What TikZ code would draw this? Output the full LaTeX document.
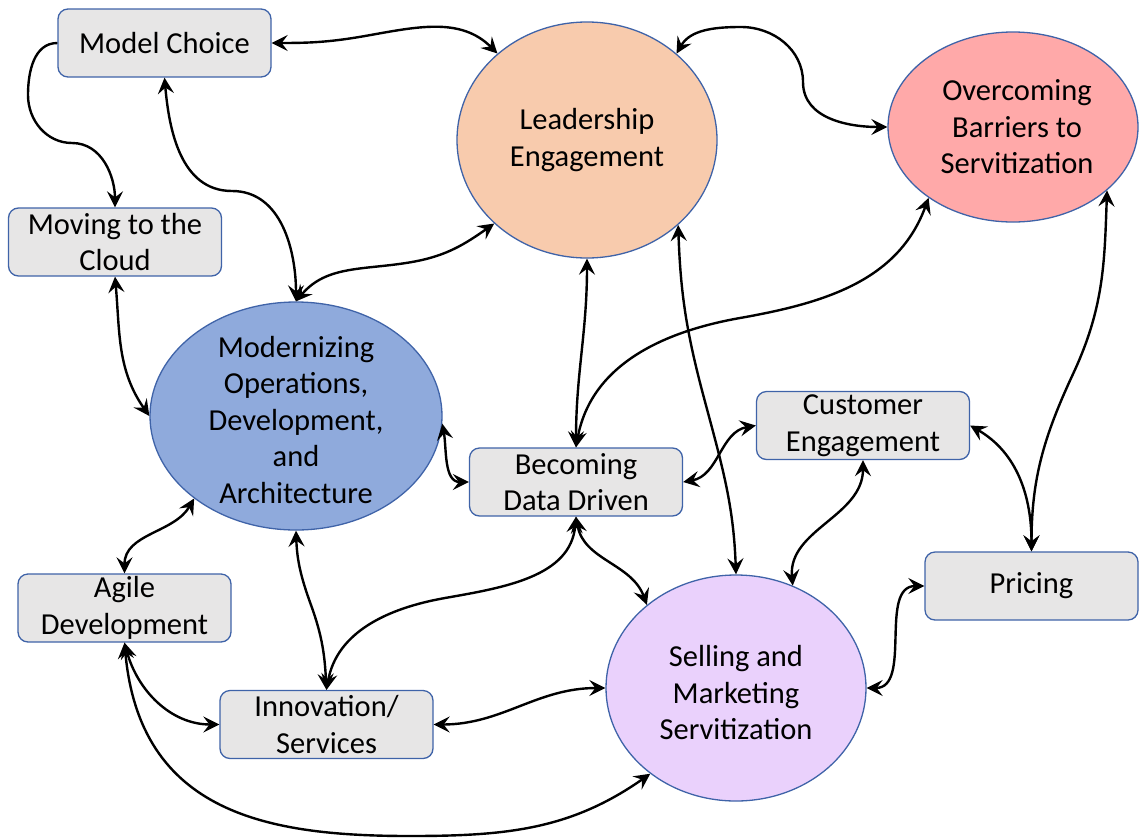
\documentclass[tikz,border=0pt]{standalone}
\usepackage{fontspec}
\setmainfont{Carlito}
\usetikzlibrary{shapes.geometric,arrows.meta}

\definecolor{boxfill}{HTML}{E7E6E6}
\definecolor{edgeblue}{HTML}{3F63A8}
\definecolor{leadfill}{HTML}{F8CBAD}
\definecolor{barrierfill}{HTML}{FFA9A9}
\definecolor{modfill}{HTML}{8FAADC}
\definecolor{sellfill}{HTML}{EAD1FC}
\newcommand\diagfont{\fontsize{30.5}{36.5}\selectfont}

\begin{document}
\begin{tikzpicture}[x=1pt,y=-1pt,
  >={Stealth[length=16pt,width=16pt,inset=6pt]},
  topic/.style={draw=edgeblue, line width=1.3pt, fill=boxfill,
    rounded corners=10pt, minimum width=213pt, minimum height=68pt,
    inner sep=0pt, align=center, font=\diagfont},
  bubble/.style={draw=edgeblue, line width=1.3pt, ellipse, inner sep=0pt},
  bubbletext/.style={align=center, inner sep=0pt, font=\diagfont},
  link/.style={line width=2.4pt, <->},
  oneway/.style={line width=2.4pt, ->}]

\useasboundingbox (0,0) rectangle (1139,838);

% rounded boxes
\node[topic] (mc)  at (164.5,43)   {Model Choice};
\node[topic] (mv)  at (115,242)    {Moving to the\\Cloud};
\node[topic] (bd)  at (576,482)    {Becoming\\Data Driven};
\node[topic] (ce)  at (863,425.5)  {Customer\\Engagement};
\node[topic] (pr)  at (1031.5,586) {Pricing};
\node[topic] (ag)  at (124.5,608)  {Agile\\Development};
\node[topic] (inn) at (326.5,724.5){Innovation/\\Services};

% main themes
\node[bubble, fill=leadfill, minimum width=260pt, minimum height=236pt] (le) at (587,140) {};
\node[bubble, fill=barrierfill, minimum width=250pt, minimum height=190pt] (ob) at (1013,127) {};
\node[bubble, fill=modfill, minimum width=292pt, minimum height=228pt] (md) at (296,416) {};
\node[bubble, fill=sellfill, minimum width=260pt, minimum height=226pt] (se) at (736,688) {};

\node[bubbletext] (le-t) at (le.center) {Leadership\\Engagement};
\node[bubbletext] (ob-t) at ([xshift=4pt]ob.center) {Overcoming\\Barriers to\\Servitization};
\node[bubbletext] (md-t) at ([yshift=-4pt]md.center) {Modernizing\\Operations,\\Development,\\and\\Architecture};
\node[bubbletext] (se-t) at ([yshift=-5pt]se.center) {Selling and\\Marketing\\Servitization};

% connections
\draw[link] (mc.east) to[out=0,in=190] (365,36) to[out=10,in=135] (le.136);
\draw[link] (le.44) to[out=60,in=180] (741,27) to[out=0,in=90] (803,82) to[out=270,in=180] (ob.west);
\draw[oneway] (mc.west) to[out=180,in=90] (28,95) to[out=270,in=180] (72,143) to[out=0,in=90] (mv.north);
\draw[link] (mc.south) to[out=-85,in=180] (232,191) to[out=0,in=90] (md.north);
\draw[link] (md.north) to[out=50,in=190] (412,262) to[out=10,in=215] (le.222);
\draw[link] (mv.south) to[out=-85,in=125] (md.west);
\draw[link] (le.south) to[out=-90,in=90] (bd.north);
\draw[link] (bd.north) to[out=80,in=190] (740,318) to[out=10,in=250] (ob.220);
\draw[link] (le.317) to[out=-88,in=105] (704,398) to[out=-75,in=92] (se.north);
\draw[link] (ob.326) to[out=-92,in=65] (1073,374) to[out=245,in=90] (pr.north);
\draw[link] (md.-3) to[out=-80,in=180] (bd.west);
\draw[link] (bd.east) to[out=10,in=190] (ce.west);
\draw[link] (ce.east) to[out=-30,in=90] (pr.north);
\draw[link] (ce.south) to[out=-90,in=95] (se.61);
\draw[link] (bd.south) to[out=-80,in=110] (se.137);
\draw[link] (bd.south) to[out=-95,in=10] (445,598) to[out=190,in=80] (inn.north);
\draw[link] (md.south) to[out=-88,in=110] (311,605) to[out=-70,in=93] (inn.north);
\draw[link] (md.219) to[out=-120,in=90] (ag.north);
\draw[link] (ag.south) to[out=-75,in=180] (inn.west);
\draw[link] (ag.south) .. controls +(15,172) and +(-140,0) .. (410,836) to[out=0,in=215] (se.225);
\draw[link] (inn.east) to[out=0,in=180] (se.west);
\draw[link] (se.east) to[out=0,in=180] (pr.west);
\end{tikzpicture}
\end{document}
